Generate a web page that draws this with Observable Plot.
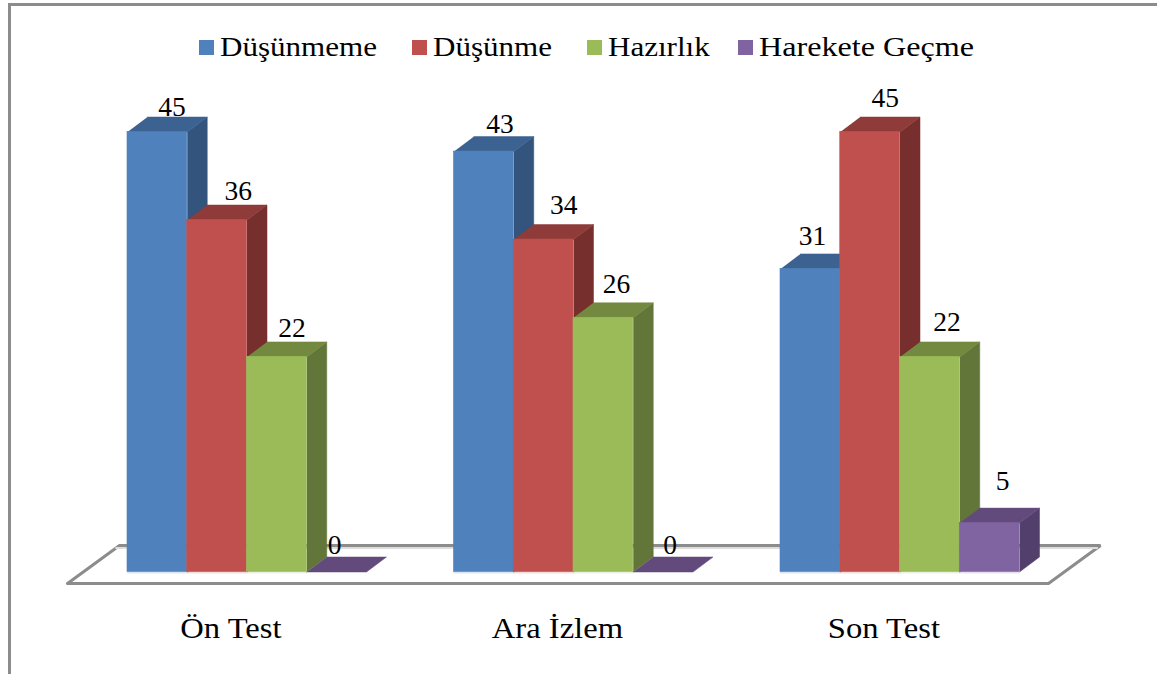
<!DOCTYPE html>
<html lang="tr">
<head>
<meta charset="utf-8">
<script src="https://cdn.jsdelivr.net/npm/d3@7"></script>
<script src="https://cdn.jsdelivr.net/npm/@observablehq/plot@0.6"></script>
<style>
html,body{margin:0;padding:0;background:#fff;}
#page{position:relative;width:1157px;height:674px;overflow:hidden;font-family:"Liberation Serif",serif;color:#000;}
#frame{position:absolute;left:8px;top:3px;right:-10px;bottom:-10px;border:3px solid #8c8c8c;box-sizing:border-box;pointer-events:none;}
#legend{height:70px;box-sizing:border-box;padding:24px 0 0 199px;display:flex;font-size:27px;line-height:30px;white-space:nowrap;}
.item{display:flex;align-items:center;}
.sw{width:15px;height:15px;margin-right:6px;flex:none;display:inline-block;}
.tx{display:inline-block;transform-origin:left center;}
svg{display:block;}
</style>
</head>
<body>
<div id="page">
  <div id="frame"></div>
  <div id="legend"></div>
  <div id="chart"></div>
</div>
<script>
// Data
const categories = ["Ön Test", "Ara İzlem", "Son Test"];
const seriesNames = ["Düşünmeme", "Düşünme", "Hazırlık", "Harekete Geçme"];
const dusunmeme = [45, 43, 31];
const dusunme = [36, 34, 45];
const hazirlik = [22, 26, 22];
const harekete = [0, 0, 5];
const seriesValues = [dusunmeme, dusunme, hazirlik, harekete];

// Colours
const frontColors = ["#4f81bd", "#c0504d", "#9bbb59", "#8064a2"];
const topColors = ["#3c6291", "#8e3b39", "#73893f", "#634a7c"];
const sideColors = ["#33547c", "#772f2e", "#62763a", "#523f6c"];

// Layout (x in bar widths, y in chart units)
const barPx = 59.75, unitPx = 9.78;
const groupStep = 326.5 / barPx;
const depthX = 20 / barPx, depthY = 15 / unitPx;
const labelShiftX = [[14.5, 21, 15, -2], [16, 20, 13, 7], [2, 15, 17, 13]];
const labelShiftY = [[24.5, 28.5, 29, 26.5], [27, 34, 34, 26.5], [33, 33.5, 35, 42]];
const axisShift = 1.73;
const floorX = [-60 / barPx, 921 / barPx, 973 / barPx, -8 / barPx];
const floorY = [-11.5 / unitPx, -11.5 / unitPx, 26.5 / unitPx, 26.5 / unitPx];
const legendStretch = [1.15, 1.15, 1.15, 1.19], legendGap = [35, 35, 28, 0], axisStretch = 1.145;

const groupX = categories.map((_, i) => i * groupStep);

// Legend
d3.select("#legend").selectAll(".item").data(seriesNames).join("div").attr("class", "item")
  .style("margin-right", (_, i) => legendGap[i] + "px")
  .each(function (name, i) {
    const item = d3.select(this);
    item.append("span").attr("class", "sw").style("background", frontColors[i]);
    const tx = item.append("span").attr("class", "tx").text(name);
    const w = tx.node().getBoundingClientRect().width;
    tx.style("width", w * legendStretch[i] + "px").style("transform", `scaleX(${legendStretch[i]})`);
  });

const poly = (xs, ys, color) => xs.map((x, k) => ({x, y: ys[k], color}));
const floor = poly(floorX, floorY, "#ffffff");
const floorBackShadow = poly(
  [floorX[3] - 3.4 / barPx, floorX[2] - 3.4 / barPx],
  [floorY[3] - 2.5 / unitPx, floorY[2] - 2.5 / unitPx], "#dddddd");

const barMarks = seriesNames.flatMap((_, j) => {
  const bars = categories.map((_, i) => ({x1: groupX[i] + j, x2: groupX[i] + j + 1, v: seriesValues[j][i]}));
  const sides = bars.flatMap((b, i) => poly(
    [b.x2, b.x2 + depthX, b.x2 + depthX, b.x2],
    [0, depthY, b.v + depthY, b.v], sideColors[j]).map(p => ({...p, id: i})));
  const tops = bars.flatMap((b, i) => poly(
    [b.x1, b.x2, b.x2 + depthX, b.x1 + depthX],
    [b.v, b.v, b.v + depthY, b.v + depthY], topColors[j]).map(p => ({...p, id: i})));
  const solid = bars.filter(b => b.v > 0);
  return [
    Plot.line(sides.filter(p => bars[p.id].v > 0), {x: "x", y: "y", z: "id", fill: sideColors[j], stroke: sideColors[j], strokeWidth: 0.5}),
    Plot.line(tops, {x: "x", y: "y", z: "id", fill: topColors[j], stroke: topColors[j], strokeWidth: 0.5}),
    Plot.rect(solid, {x1: "x1", x2: "x2", y1: 0, y2: "v", fill: frontColors[j], stroke: frontColors[j], strokeWidth: 0.6}),
    Plot.rect(solid, {x1: "x1", x2: "x2", y1: -2 / unitPx, y2: 0, fill: frontColors[j], fillOpacity: 0.2})
  ];
});

const labels = categories.flatMap((_, i) => seriesNames.map((_, j) => ({
  x: groupX[i] + j + 0.5 + labelShiftX[i][j] / barPx,
  y: seriesValues[j][i] + labelShiftY[i][j] / unitPx,
  text: String(seriesValues[j][i])
})));

const axisTicks = groupX.map(x => x + axisShift);

const chart = Plot.plot({
  width: 1157,
  height: 604,
  marginTop: 0, marginLeft: 0, marginRight: 0, marginBottom: 102.5,
  style: {background: "transparent", fontFamily: "Liberation Serif, serif"},
  x: {domain: [0, 16], range: [127, 127 + 16 * barPx], axis: null},
  y: {domain: [0, 45], range: [501.5, 61.5], axis: null},
  marks: [
    Plot.line([...floor, floor[0]], {x: "x", y: "y", fill: "#ffffff", stroke: "#8c8c8c", strokeWidth: 3, strokeLinejoin: "miter"}),
    Plot.line(floorBackShadow, {x: "x", y: "y", stroke: "#dddddd", strokeWidth: 2}),
    ...barMarks,
    Plot.text(labels, {x: "x", y: "y", text: "text", fontSize: 27.5, fill: "#000"}),
    Plot.axisX({
      ticks: axisTicks,
      tickFormat: d => categories[axisTicks.indexOf(d)],
      tickSize: 0,
      tickPadding: 46,
      fontSize: 28.5,
      label: null,
      anchor: "bottom",
      fill: "#000"
    })
  ]
});
document.getElementById("chart").appendChild(chart);
// Widen the axis labels to the wider face of the original
chart.querySelectorAll('[aria-label="x-axis tick label"] text').forEach(t => {
  t.setAttribute("textLength", t.getComputedTextLength() * axisStretch);
  t.setAttribute("lengthAdjust", "spacingAndGlyphs");
});
</script>
</body>
</html>
